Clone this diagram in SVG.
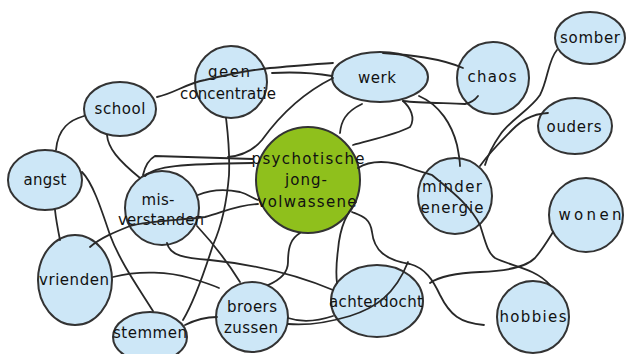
<svg xmlns="http://www.w3.org/2000/svg" width="626" height="354" viewBox="0 0 626 354">
<style>
.n{fill:#cde7f7;stroke:#333333;stroke-width:2}
.c{fill:#8fc01c;stroke:#333333;stroke-width:2}
text{font-family:"DejaVu Sans","Liberation Sans",sans-serif;font-size:15px;fill:#111111;text-anchor:middle}
.e path{fill:none;stroke:#282828;stroke-width:1.8;stroke-linecap:round}
</style>
<rect width="626" height="354" fill="#ffffff"/>
<g id="school"><ellipse class="n" cx="120" cy="109" rx="36" ry="27"/><text x="120" y="114" textLength="51" lengthAdjust="spacing">school</text></g>
<g id="geen-concentratie"><ellipse class="n" cx="231" cy="82" rx="36" ry="36"/><text x="229" y="77" textLength="42" lengthAdjust="spacing">geen</text><text x="228" y="99" textLength="96" lengthAdjust="spacing">concentratie</text></g>
<g id="werk"><ellipse class="n" cx="380" cy="77" rx="48" ry="25"/><text x="377" y="83" textLength="38" lengthAdjust="spacing">werk</text></g>
<g id="chaos"><ellipse class="n" cx="493" cy="78" rx="36" ry="36"/><text x="492" y="82" textLength="49" lengthAdjust="spacing">chaos</text></g>
<g id="somber"><ellipse class="n" cx="590" cy="38" rx="35" ry="26"/><text x="590" y="43" textLength="60" lengthAdjust="spacing">somber</text></g>
<g id="ouders"><ellipse class="n" cx="575" cy="126" rx="37" ry="28"/><text x="574" y="132" textLength="55" lengthAdjust="spacing">ouders</text></g>
<g id="angst"><ellipse class="n" cx="45" cy="180" rx="37" ry="30"/><text x="45" y="185" textLength="43" lengthAdjust="spacing">angst</text></g>
<g id="mis-verstanden"><ellipse class="n" cx="162" cy="208" rx="37" ry="37"/><text x="158" y="205" textLength="33" lengthAdjust="spacing">mis-</text><text x="161" y="225" textLength="86" lengthAdjust="spacing">verstanden</text></g>
<g id="psychotische-jongvolwassene"><ellipse class="c" cx="308" cy="180" rx="52" ry="53"/><text x="308" y="164" textLength="113" lengthAdjust="spacing">psychotische</text><text x="306" y="185" textLength="42" lengthAdjust="spacing">jong-</text><text x="307" y="207" textLength="99" lengthAdjust="spacing">volwassene</text></g>
<g id="minder-energie"><ellipse class="n" cx="455" cy="196" rx="37" ry="38"/><text x="452" y="192" textLength="60" lengthAdjust="spacing">minder</text><text x="452" y="213" textLength="63" lengthAdjust="spacing">energie</text></g>
<g id="wonen"><ellipse class="n" cx="586" cy="215" rx="37" ry="37"/><text x="590" y="220" textLength="63" lengthAdjust="spacing">wonen</text></g>
<g id="vrienden"><ellipse class="n" cx="75" cy="280" rx="37" ry="45"/><text x="74" y="285" textLength="70" lengthAdjust="spacing">vrienden</text></g>
<g id="stemmen"><ellipse class="n" cx="150" cy="337" rx="37" ry="25"/><text x="150" y="338" textLength="74" lengthAdjust="spacing">stemmen</text></g>
<g id="broers-zussen"><ellipse class="n" cx="252" cy="317" rx="36" ry="35"/><text x="252" y="312" textLength="50" lengthAdjust="spacing">broers</text><text x="251" y="333" textLength="54" lengthAdjust="spacing">zussen</text></g>
<g id="achterdocht"><ellipse class="n" cx="377" cy="301" rx="46" ry="36"/><text x="376" y="307" textLength="94" lengthAdjust="spacing">achterdocht</text></g>
<g id="hobbies"><ellipse class="n" cx="533" cy="317" rx="36" ry="36"/><text x="533" y="322" textLength="67" lengthAdjust="spacing">hobbies</text></g>
<g id="connectors" class="e">
<path d="M84,116 C70,120 58,128 56,150"/>
<path d="M157,97 C175,93 185,84 205,80 C230,74 250,70 270,68 C295,66 315,64 333,63"/>
<path d="M272,73 C290,72 315,73 332,76"/>
<path d="M333,78 C305,92 280,115 262,140 C252,152 240,156 228,157"/>
<path d="M253,159 L155,156 C148,160 145,166 143,175"/>
<path d="M145,176 C155,166 180,164 253,163"/>
<path d="M107,135 C108,148 118,160 140,178"/>
<path d="M82,172 C92,182 100,205 110,235 C120,262 140,290 153,311"/>
<path d="M55,210 C56,220 58,230 60,240"/>
<path d="M90,247 C100,238 115,232 130,226 C150,220 185,220 205,217 C222,213 235,205 258,204"/>
<path d="M198,195 C210,190 225,189 240,192 C248,194 252,198 258,200"/>
<path d="M113,277 C140,270 170,272 190,278 C200,281 210,284 219,288"/>
<path d="M167,243 C170,256 185,258 210,260 C250,264 290,272 333,290"/>
<path d="M197,226 C210,240 225,258 240,282"/>
<path d="M300,233 C292,238 288,245 288,262 C288,272 280,280 268,285"/>
<path d="M288,318 C300,322 315,322 333,316"/>
<path d="M288,324 C310,326 330,322 350,316 C375,308 395,295 408,262"/>
<path d="M185,325 C195,320 205,317 217,317"/>
<path d="M226,118 C228,135 230,150 229,175 C227,200 222,225 213,245 C205,270 195,300 183,320"/>
<path d="M356,202 C348,212 340,225 338,250 C336,265 336,275 337,283"/>
<path d="M352,212 C362,216 370,218 372,232 C374,250 385,260 410,264 C425,268 433,280 440,295 C450,315 460,323 484,325"/>
<path d="M430,283 C440,276 455,273 480,272 C505,271 525,268 535,258 C542,250 548,240 553,232"/>
<path d="M358,168 C370,160 390,160 410,168 C420,172 428,173 432,175 C450,190 470,205 480,225 C485,240 487,252 495,258 C510,266 535,268 550,285"/>
<path d="M353,145 C370,140 395,135 410,127 C416,118 410,107 403,101"/>
<path d="M340,133 C341,122 345,112 362,104"/>
<path d="M419,96 C440,105 452,125 457,145 C459,155 460,160 460,166"/>
<path d="M403,101 C420,103 445,103 465,104 C470,103 475,100 478,96"/>
<path d="M383,53 C410,55 440,58 463,68"/>
<path d="M557,50 C548,60 548,80 540,95 C530,110 510,120 500,135 C493,145 488,155 485,165"/>
<path d="M548,113 C530,114 520,122 512,130 C500,142 490,152 480,166"/>
</g>
</svg>
